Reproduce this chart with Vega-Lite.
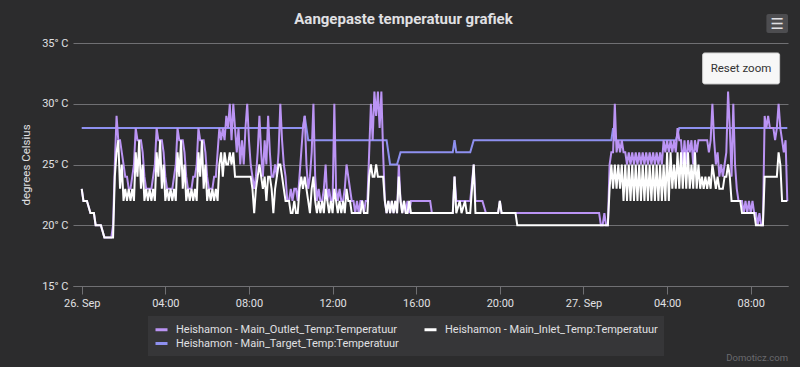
{
"$schema": "https://vega.github.io/schema/vega-lite/v6.json",
"width": 715, "height": 243,
"autosize": {"type": "none"},
"padding": {"left": 73, "top": 43, "right": 12, "bottom": 81},
"background": "#2c2c2d",
"title": {"text": "Aangepaste temperatuur grafiek", "fontSize": 15, "fontWeight": "bold", "color": "#E0E0E3", "font": "Roboto", "anchor": "middle", "offset": -13, "dx": -27},
"config": {
  "font": "Roboto",
  "view": {"stroke": null},
  "axis": {"labelFont": "Roboto", "titleFont": "Roboto", "labelColor": "#E0E0E3", "titleColor": "#E0E0E3", "labelFontSize": 11, "gridColor": "#707073", "domainColor": "#707073", "tickColor": "#707073"},
  "legend": {"direction": "horizontal", "columns": 2, "labelFont": "Roboto", "labelFontSize": 11, "labelColor": "#E0E0E3", "labelLimit": 400, "symbolType": "stroke", "symbolStrokeWidth": 3, "symbolSize": 144, "columnPadding": 19, "rowPadding": 0, "padding": 6, "fillColor": "#363638", "labelOffset": 7}
},
"datasets": {"temps": [
{"t":"2023-09-26T00:00","o":23,"i":23,"g":28},
{"t":"2023-09-26T00:05","o":22,"i":22},
{"t":"2023-09-26T00:15","o":22,"i":22},
{"t":"2023-09-26T00:25","o":21,"i":21},
{"t":"2023-09-26T00:35","o":21,"i":21},
{"t":"2023-09-26T00:40","o":20,"i":20},
{"t":"2023-09-26T00:55","o":20,"i":20},
{"t":"2023-09-26T01:05","o":19,"i":19},
{"t":"2023-09-26T01:25","o":19,"i":19},
{"t":"2023-09-26T01:30","o":20,"i":19},
{"t":"2023-09-26T01:35","o":25,"i":24},
{"t":"2023-09-26T01:40","o":29,"i":26},
{"t":"2023-09-26T01:45","o":27,"i":27},
{"t":"2023-09-26T01:50","o":27,"i":23},
{"t":"2023-09-26T01:55","o":26,"i":25},
{"t":"2023-09-26T02:00","o":25,"i":22},
{"t":"2023-09-26T02:05","o":24,"i":23},
{"t":"2023-09-26T02:10","o":24,"i":22},
{"t":"2023-09-26T02:15","o":23,"i":23},
{"t":"2023-09-26T02:20","o":23,"i":22},
{"t":"2023-09-26T02:25","o":24,"i":23},
{"t":"2023-09-26T02:30","o":25,"i":22},
{"t":"2023-09-26T02:35","o":28,"i":26},
{"t":"2023-09-26T02:40","o":27,"i":24},
{"t":"2023-09-26T02:45","o":27,"i":27},
{"t":"2023-09-26T02:50","o":27,"i":23},
{"t":"2023-09-26T02:55","o":26,"i":25},
{"t":"2023-09-26T03:00","o":24,"i":22},
{"t":"2023-09-26T03:05","o":23,"i":23},
{"t":"2023-09-26T03:10","o":23,"i":22},
{"t":"2023-09-26T03:15","o":23,"i":23},
{"t":"2023-09-26T03:20","o":23,"i":22},
{"t":"2023-09-26T03:25","o":24,"i":23},
{"t":"2023-09-26T03:30","o":25,"i":22},
{"t":"2023-09-26T03:35","o":28,"i":26},
{"t":"2023-09-26T03:40","o":27,"i":24},
{"t":"2023-09-26T03:45","o":27,"i":27},
{"t":"2023-09-26T03:50","o":27,"i":23},
{"t":"2023-09-26T03:55","o":26,"i":25},
{"t":"2023-09-26T04:00","o":24,"i":22},
{"t":"2023-09-26T04:05","o":23,"i":23},
{"t":"2023-09-26T04:10","o":23,"i":22},
{"t":"2023-09-26T04:15","o":23,"i":23},
{"t":"2023-09-26T04:20","o":23,"i":22},
{"t":"2023-09-26T04:25","o":24,"i":23},
{"t":"2023-09-26T04:30","o":25,"i":22},
{"t":"2023-09-26T04:35","o":28,"i":26},
{"t":"2023-09-26T04:40","o":27,"i":24},
{"t":"2023-09-26T04:45","o":27,"i":27},
{"t":"2023-09-26T04:50","o":27,"i":23},
{"t":"2023-09-26T04:55","o":26,"i":25},
{"t":"2023-09-26T05:00","o":24,"i":22},
{"t":"2023-09-26T05:05","o":23,"i":23},
{"t":"2023-09-26T05:10","o":23,"i":22},
{"t":"2023-09-26T05:15","o":23,"i":23},
{"t":"2023-09-26T05:20","o":24,"i":22},
{"t":"2023-09-26T05:25","o":24,"i":23},
{"t":"2023-09-26T05:30","o":25,"i":22},
{"t":"2023-09-26T05:35","o":28,"i":26},
{"t":"2023-09-26T05:40","o":27,"i":24},
{"t":"2023-09-26T05:45","o":27,"i":27},
{"t":"2023-09-26T05:50","o":27,"i":23},
{"t":"2023-09-26T05:55","o":26,"i":25},
{"t":"2023-09-26T06:00","o":24,"i":22},
{"t":"2023-09-26T06:05","o":23,"i":23},
{"t":"2023-09-26T06:10","o":23,"i":22},
{"t":"2023-09-26T06:15","o":23,"i":23},
{"t":"2023-09-26T06:20","o":24,"i":22},
{"t":"2023-09-26T06:25","o":24,"i":23},
{"t":"2023-09-26T06:30","o":26,"i":22},
{"t":"2023-09-26T06:35","o":28,"i":25},
{"t":"2023-09-26T06:40","o":27,"i":26},
{"t":"2023-09-26T06:45","o":28,"i":24},
{"t":"2023-09-26T06:50","o":27,"i":26},
{"t":"2023-09-26T06:55","o":29,"i":25},
{"t":"2023-09-26T07:00","o":28,"i":25},
{"t":"2023-09-26T07:05","o":30,"i":26},
{"t":"2023-09-26T07:10","o":27,"i":25},
{"t":"2023-09-26T07:15","o":30,"i":26},
{"t":"2023-09-26T07:20","o":28,"i":24},
{"t":"2023-09-26T07:25","o":26,"i":24},
{"t":"2023-09-26T07:30","o":28,"i":24},
{"t":"2023-09-26T07:35","o":25,"i":24},
{"t":"2023-09-26T07:40","o":27,"i":24},
{"t":"2023-09-26T07:45","o":25,"i":24},
{"t":"2023-09-26T07:50","o":28,"i":24},
{"t":"2023-09-26T07:55","o":30,"i":24},
{"t":"2023-09-26T08:00","o":27,"i":24},
{"t":"2023-09-26T08:05","o":25,"i":24},
{"t":"2023-09-26T08:10","o":24,"i":23},
{"t":"2023-09-26T08:15","o":23,"i":21},
{"t":"2023-09-26T08:20","o":24,"i":23},
{"t":"2023-09-26T08:25","o":26,"i":24},
{"t":"2023-09-26T08:30","o":29,"i":25},
{"t":"2023-09-26T08:35","o":26,"i":24},
{"t":"2023-09-26T08:40","o":24,"i":23},
{"t":"2023-09-26T08:45","o":27,"i":24},
{"t":"2023-09-26T08:50","o":25,"i":22},
{"t":"2023-09-26T08:55","o":29,"i":24},
{"t":"2023-09-26T09:00","o":26,"i":24},
{"t":"2023-09-26T09:05","o":24,"i":23},
{"t":"2023-09-26T09:10","o":24,"i":21},
{"t":"2023-09-26T09:15","o":25,"i":23},
{"t":"2023-09-26T09:20","o":24,"i":24},
{"t":"2023-09-26T09:25","o":26,"i":25},
{"t":"2023-09-26T09:30","o":30,"i":25},
{"t":"2023-09-26T09:35","o":27,"i":24},
{"t":"2023-09-26T09:40","o":25,"i":23},
{"t":"2023-09-26T09:45","o":24,"i":22},
{"t":"2023-09-26T09:50","o":22,"i":22},
{"t":"2023-09-26T09:55","o":22,"i":22},
{"t":"2023-09-26T10:00","o":23,"i":21},
{"t":"2023-09-26T10:05","o":22,"i":21},
{"t":"2023-09-26T10:10","o":23,"i":22},
{"t":"2023-09-26T10:15","o":23,"i":21},
{"t":"2023-09-26T10:20","o":22,"i":21},
{"t":"2023-09-26T10:25","o":24,"i":23},
{"t":"2023-09-26T10:30","o":26,"i":24},
{"t":"2023-09-26T10:35","o":28,"i":23,"g":28},
{"t":"2023-09-26T10:40","o":29,"i":24,"g":29},
{"t":"2023-09-26T10:45","o":25,"i":23,"g":28},
{"t":"2023-09-26T10:50","o":23,"i":22,"g":27},
{"t":"2023-09-26T10:55","o":24,"i":21},
{"t":"2023-09-26T11:00","o":26,"i":23},
{"t":"2023-09-26T11:05","o":30,"i":24},
{"t":"2023-09-26T11:10","o":24,"i":22},
{"t":"2023-09-26T11:15","o":22,"i":21},
{"t":"2023-09-26T11:20","o":23,"i":22},
{"t":"2023-09-26T11:25","o":22,"i":21},
{"t":"2023-09-26T11:30","o":22,"i":22},
{"t":"2023-09-26T11:35","o":23,"i":21},
{"t":"2023-09-26T11:40","o":25,"i":23},
{"t":"2023-09-26T11:45","o":22,"i":22},
{"t":"2023-09-26T11:50","o":23,"i":21},
{"t":"2023-09-26T11:55","o":22,"i":22},
{"t":"2023-09-26T12:00","o":22,"i":21},
{"t":"2023-09-26T12:05","o":30,"i":23},
{"t":"2023-09-26T12:10","o":23,"i":22},
{"t":"2023-09-26T12:15","o":22,"i":21},
{"t":"2023-09-26T12:20","o":23,"i":22},
{"t":"2023-09-26T12:25","o":22,"i":21},
{"t":"2023-09-26T12:30","o":22,"i":22},
{"t":"2023-09-26T12:35","o":23,"i":21},
{"t":"2023-09-26T12:40","o":25,"i":23},
{"t":"2023-09-26T12:45","o":24,"i":22},
{"t":"2023-09-26T12:50","o":23,"i":22},
{"t":"2023-09-26T12:55","o":22,"i":21},
{"t":"2023-09-26T13:00","o":22,"i":21},
{"t":"2023-09-26T13:05","o":21,"i":21},
{"t":"2023-09-26T13:10","o":22,"i":21},
{"t":"2023-09-26T13:15","o":21,"i":21},
{"t":"2023-09-26T13:20","o":22,"i":21},
{"t":"2023-09-26T13:25","o":22,"i":22},
{"t":"2023-09-26T13:30","o":21,"i":21},
{"t":"2023-09-26T13:35","o":22,"i":21},
{"t":"2023-09-26T13:40","o":22,"i":21},
{"t":"2023-09-26T13:45","o":26,"i":24},
{"t":"2023-09-26T13:50","o":30,"i":25},
{"t":"2023-09-26T13:55","o":27,"i":24},
{"t":"2023-09-26T14:00","o":31,"i":24},
{"t":"2023-09-26T14:05","o":29,"i":25},
{"t":"2023-09-26T14:10","o":31,"i":24},
{"t":"2023-09-26T14:15","o":28,"i":24},
{"t":"2023-09-26T14:20","o":31,"i":24},
{"t":"2023-09-26T14:25","o":26,"i":24},
{"t":"2023-09-26T14:30","o":22,"i":22},
{"t":"2023-09-26T14:35","o":21,"i":21,"g":27},
{"t":"2023-09-26T14:40","o":22,"i":22},
{"t":"2023-09-26T14:45","o":21,"i":21,"g":25},
{"t":"2023-09-26T14:50","o":22,"i":22},
{"t":"2023-09-26T14:55","o":21,"i":21},
{"t":"2023-09-26T15:00","o":22,"i":22},
{"t":"2023-09-26T15:05","o":21,"i":21,"g":25},
{"t":"2023-09-26T15:10","o":25,"i":24},
{"t":"2023-09-26T15:15","o":22,"i":22,"g":26},
{"t":"2023-09-26T15:20","o":21,"i":21},
{"t":"2023-09-26T15:25","o":22,"i":22},
{"t":"2023-09-26T15:30","o":21,"i":21},
{"t":"2023-09-26T15:35","o":22,"i":21},
{"t":"2023-09-26T15:40","o":21,"i":22},
{"t":"2023-09-26T15:45","o":22,"i":21},
{"t":"2023-09-26T15:50","o":22,"i":21},
{"t":"2023-09-26T16:40","o":22,"i":21},
{"t":"2023-09-26T16:45","o":21,"i":21},
{"t":"2023-09-26T17:45","o":21,"i":21,"g":26},
{"t":"2023-09-26T17:50","o":24,"i":24,"g":27},
{"t":"2023-09-26T17:55","o":22,"i":21,"g":26},
{"t":"2023-09-26T18:05","o":22,"i":22},
{"t":"2023-09-26T18:10","o":22,"i":21},
{"t":"2023-09-26T18:20","o":22,"i":22},
{"t":"2023-09-26T18:25","o":22,"i":21},
{"t":"2023-09-26T18:35","o":22,"i":21,"g":26},
{"t":"2023-09-26T18:45","o":25,"i":25,"g":27},
{"t":"2023-09-26T18:50","o":22,"i":21},
{"t":"2023-09-26T19:10","o":22,"i":21},
{"t":"2023-09-26T19:20","o":21,"i":21},
{"t":"2023-09-26T19:55","o":21,"i":21},
{"t":"2023-09-26T20:00","o":22,"i":22},
{"t":"2023-09-26T20:05","o":21,"i":21},
{"t":"2023-09-26T20:45","o":21,"i":21},
{"t":"2023-09-26T20:50","o":21,"i":20},
{"t":"2023-09-27T00:45","o":21,"i":20},
{"t":"2023-09-27T00:50","o":20,"i":20},
{"t":"2023-09-27T00:55","o":20,"i":20},
{"t":"2023-09-27T01:00","o":21,"i":20},
{"t":"2023-09-27T01:05","o":20,"i":20},
{"t":"2023-09-27T01:10","o":20,"i":20},
{"t":"2023-09-27T01:15","o":25,"i":23},
{"t":"2023-09-27T01:20","o":26,"i":25,"g":27},
{"t":"2023-09-27T01:25","o":26,"i":23,"g":28},
{"t":"2023-09-27T01:30","o":30,"i":25,"g":27},
{"t":"2023-09-27T01:35","o":26,"i":23},
{"t":"2023-09-27T01:40","o":27,"i":25},
{"t":"2023-09-27T01:45","o":26,"i":23},
{"t":"2023-09-27T01:50","o":27,"i":25},
{"t":"2023-09-27T01:55","o":26,"i":22},
{"t":"2023-09-27T02:00","o":26,"i":25},
{"t":"2023-09-27T02:05","o":25,"i":22},
{"t":"2023-09-27T02:10","o":26,"i":25},
{"t":"2023-09-27T02:15","o":25,"i":22},
{"t":"2023-09-27T02:20","o":26,"i":25},
{"t":"2023-09-27T02:25","o":25,"i":22},
{"t":"2023-09-27T02:30","o":26,"i":25},
{"t":"2023-09-27T02:35","o":25,"i":22},
{"t":"2023-09-27T02:40","o":26,"i":25},
{"t":"2023-09-27T02:45","o":25,"i":22},
{"t":"2023-09-27T02:50","o":26,"i":25},
{"t":"2023-09-27T02:55","o":25,"i":22},
{"t":"2023-09-27T03:00","o":26,"i":25},
{"t":"2023-09-27T03:05","o":25,"i":22},
{"t":"2023-09-27T03:10","o":26,"i":25},
{"t":"2023-09-27T03:15","o":25,"i":22},
{"t":"2023-09-27T03:20","o":26,"i":25},
{"t":"2023-09-27T03:25","o":25,"i":22},
{"t":"2023-09-27T03:30","o":26,"i":25},
{"t":"2023-09-27T03:35","o":25,"i":22},
{"t":"2023-09-27T03:40","o":26,"i":25},
{"t":"2023-09-27T03:45","o":25,"i":22},
{"t":"2023-09-27T03:50","o":27,"i":25},
{"t":"2023-09-27T03:55","o":26,"i":22},
{"t":"2023-09-27T04:00","o":27,"i":26},
{"t":"2023-09-27T04:05","o":26,"i":22},
{"t":"2023-09-27T04:10","o":27,"i":26},
{"t":"2023-09-27T04:15","o":26,"i":23},
{"t":"2023-09-27T04:20","o":27,"i":25},
{"t":"2023-09-27T04:25","o":26,"i":23,"g":27},
{"t":"2023-09-27T04:30","o":28,"i":26},
{"t":"2023-09-27T04:35","o":27,"i":23,"g":28},
{"t":"2023-09-27T04:40","o":27,"i":26},
{"t":"2023-09-27T04:45","o":25,"i":23},
{"t":"2023-09-27T04:50","o":27,"i":26},
{"t":"2023-09-27T04:55","o":25,"i":23},
{"t":"2023-09-27T05:00","o":27,"i":26},
{"t":"2023-09-27T05:05","o":26,"i":23},
{"t":"2023-09-27T05:10","o":27,"i":25},
{"t":"2023-09-27T05:15","o":25,"i":23},
{"t":"2023-09-27T05:20","o":27,"i":26},
{"t":"2023-09-27T05:25","o":26,"i":23},
{"t":"2023-09-27T05:30","o":27,"i":25},
{"t":"2023-09-27T05:35","o":27,"i":23},
{"t":"2023-09-27T05:40","o":27,"i":24},
{"t":"2023-09-27T05:45","o":27,"i":23},
{"t":"2023-09-27T05:50","o":27,"i":24},
{"t":"2023-09-27T05:55","o":27,"i":23},
{"t":"2023-09-27T06:00","o":26,"i":24},
{"t":"2023-09-27T06:05","o":27,"i":23},
{"t":"2023-09-27T06:10","o":30,"i":25},
{"t":"2023-09-27T06:15","o":27,"i":24},
{"t":"2023-09-27T06:20","o":25,"i":23},
{"t":"2023-09-27T06:25","o":26,"i":24},
{"t":"2023-09-27T06:30","o":24,"i":23},
{"t":"2023-09-27T06:35","o":25,"i":23},
{"t":"2023-09-27T06:40","o":24,"i":23},
{"t":"2023-09-27T06:45","o":25,"i":24},
{"t":"2023-09-27T06:50","o":26,"i":24},
{"t":"2023-09-27T06:55","o":31,"i":25},
{"t":"2023-09-27T07:00","o":28,"i":24},
{"t":"2023-09-27T07:05","o":24,"i":22},
{"t":"2023-09-27T07:10","o":30,"i":22},
{"t":"2023-09-27T07:15","o":25,"i":22},
{"t":"2023-09-27T07:20","o":23,"i":22},
{"t":"2023-09-27T07:25","o":22,"i":22},
{"t":"2023-09-27T07:30","o":22,"i":22},
{"t":"2023-09-27T07:35","o":22,"i":21},
{"t":"2023-09-27T07:40","o":21,"i":21},
{"t":"2023-09-27T07:45","o":22,"i":21},
{"t":"2023-09-27T07:50","o":21,"i":21},
{"t":"2023-09-27T07:55","o":22,"i":21},
{"t":"2023-09-27T08:00","o":21,"i":21},
{"t":"2023-09-27T08:05","o":22,"i":21},
{"t":"2023-09-27T08:10","o":21,"i":21},
{"t":"2023-09-27T08:15","o":21,"i":20},
{"t":"2023-09-27T08:20","o":20,"i":20},
{"t":"2023-09-27T08:25","o":21,"i":20},
{"t":"2023-09-27T08:30","o":20,"i":20},
{"t":"2023-09-27T08:35","o":20,"i":20},
{"t":"2023-09-27T08:40","o":29,"i":24},
{"t":"2023-09-27T08:45","o":28,"i":24},
{"t":"2023-09-27T08:50","o":29,"i":24},
{"t":"2023-09-27T08:55","o":28,"i":24},
{"t":"2023-09-27T09:00","o":28,"i":24},
{"t":"2023-09-27T09:05","o":28,"i":24},
{"t":"2023-09-27T09:10","o":27,"i":24},
{"t":"2023-09-27T09:15","o":28,"i":24},
{"t":"2023-09-27T09:20","o":30,"i":26},
{"t":"2023-09-27T09:25","o":28,"i":25},
{"t":"2023-09-27T09:30","o":27,"i":22},
{"t":"2023-09-27T09:35","o":26,"i":22},
{"t":"2023-09-27T09:40","o":27,"i":22},
{"t":"2023-09-27T09:45","o":22,"i":22,"g":28}
]},
"layer": [
{"data": {"name": "temps"}, "transform": [{"filter": "datum.g != null"}],
 "mark": {"type": "line", "strokeWidth": 2},
 "encoding": {
  "x": {"field": "t", "type": "temporal",
    "scale": {"domain": [{"year": 2023, "month": 9, "date": 25, "hours": 23, "minutes": 35}, {"year": 2023, "month": 9, "date": 27, "hours": 9, "minutes": 47}]},
    "axis": {"title": null,
      "values": [{"year": 2023, "month": 9, "date": 26, "hours": 0}, {"year": 2023, "month": 9, "date": 26, "hours": 4}, {"year": 2023, "month": 9, "date": 26, "hours": 8}, {"year": 2023, "month": 9, "date": 26, "hours": 12}, {"year": 2023, "month": 9, "date": 26, "hours": 16}, {"year": 2023, "month": 9, "date": 26, "hours": 20}, {"year": 2023, "month": 9, "date": 27, "hours": 0}, {"year": 2023, "month": 9, "date": 27, "hours": 4}, {"year": 2023, "month": 9, "date": 27, "hours": 8}],
      "labelExpr": "timeFormat(datum.value, '%H') == '00' ? timeFormat(datum.value, '%d. %b') : timeFormat(datum.value, '%H:%M')",
      "grid": false, "domain": true, "ticks": true, "tickSize": 8, "labelPadding": 3, "labelFlush": false, "labelOverlap": false}},
  "y": {"field": "g", "type": "quantitative",
    "scale": {"domain": [15, 35], "nice": false, "zero": false},
    "axis": {"values": [15, 20, 25, 30, 35], "labelExpr": "datum.value + '° C'", "title": "degrees Celsius", "domain": false, "ticks": false, "labelPadding": 5, "grid": true, "titlePadding": 10, "titleFontSize": 11.5, "titleFontWeight": "normal"}},
  "color": {"datum": "Heishamon - Main_Target_Temp:Temperatuur", "type": "nominal",
    "scale": {"domain": ["Heishamon - Main_Outlet_Temp:Temperatuur", "Heishamon - Main_Inlet_Temp:Temperatuur", "Heishamon - Main_Target_Temp:Temperatuur"], "range": ["#BB94F4", "#FFFFFF", "#8E90F0"]},
    "legend": {"title": null, "orient": "none", "legendX": 75, "legendY": 273}}
 }},
{"data": {"name": "temps"}, "transform": [{"filter": "datum.o != null"}],
 "mark": {"type": "line", "strokeWidth": 2},
 "encoding": {
  "x": {"field": "t", "type": "temporal"},
  "y": {"field": "o", "type": "quantitative"},
  "color": {"datum": "Heishamon - Main_Outlet_Temp:Temperatuur", "type": "nominal"}
 }},
{"data": {"name": "temps"}, "transform": [{"filter": "datum.i != null"}],
 "mark": {"type": "line", "strokeWidth": 2},
 "encoding": {
  "x": {"field": "t", "type": "temporal"},
  "y": {"field": "i", "type": "quantitative"},
  "color": {"datum": "Heishamon - Main_Inlet_Temp:Temperatuur", "type": "nominal"}
 }},
{"data": {"values": [{}]},
 "mark": {"type": "rect", "fill": "#f7f7f7", "stroke": "#cccccc", "strokeWidth": 1, "cornerRadius": 2},
 "encoding": {
  "x": {"datum": {"year": 2023, "month": 9, "date": 27, "hours": 5, "minutes": 42}, "type": "temporal"},
  "x2": {"datum": {"year": 2023, "month": 9, "date": 27, "hours": 9, "minutes": 23}},
  "y": {"datum": 34.18, "type": "quantitative"},
  "y2": {"datum": 31.63}
 }},
{"data": {"values": [{}]},
 "mark": {"type": "text", "text": "Reset zoom", "fill": "#333333", "fontSize": 11.5, "font": "Roboto", "align": "center", "baseline": "middle"},
 "encoding": {
  "x": {"datum": {"year": 2023, "month": 9, "date": 27, "hours": 7, "minutes": 32}, "type": "temporal"},
  "y": {"datum": 32.9, "type": "quantitative"}
 }},
{"data": {"values": [{}]},
 "mark": {"type": "rect", "fill": "#4d4d50", "cornerRadius": 2},
 "encoding": {
  "x": {"datum": {"year": 2023, "month": 9, "date": 27, "hours": 8, "minutes": 45}, "type": "temporal"},
  "x2": {"datum": {"year": 2023, "month": 9, "date": 27, "hours": 9, "minutes": 47}},
  "y": {"datum": 37.39, "type": "quantitative"},
  "y2": {"datum": 35.82}
 }},
{"data": {"values": [{}]},
 "mark": {"type": "text", "text": "☰", "fill": "#E0E0E3", "fontSize": 15, "font": "DejaVu Sans", "fontWeight": "bold", "align": "center", "baseline": "middle"},
 "encoding": {
  "x": {"datum": {"year": 2023, "month": 9, "date": 27, "hours": 9, "minutes": 16}, "type": "temporal"},
  "y": {"datum": 36.6, "type": "quantitative"}
 }},
{"data": {"values": [{}]},
 "mark": {"type": "text", "text": "Domoticz.com", "fill": "#6a6a6d", "fontSize": 9.5, "font": "Roboto", "align": "right", "baseline": "middle"},
 "encoding": {
  "x": {"datum": {"year": 2023, "month": 9, "date": 27, "hours": 9, "minutes": 47}, "type": "temporal"},
  "y": {"datum": 9.05, "type": "quantitative"}
 }}
]
}
